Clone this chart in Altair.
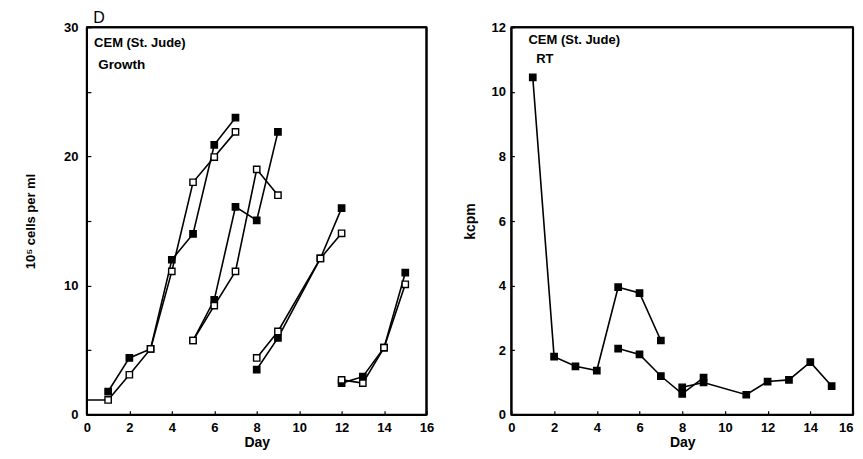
import altair as alt
import pandas as pd

# ---------------- Growth panel data (10^5 cells per ml) ----------------
g1_days = [1, 2, 3, 4, 5, 6, 7]
g1_filled = [1.8, 4.4, 5.1, 12.0, 14.0, 20.9, 23.0]
g1_open = [1.15, 3.1, 5.1, 11.1, 18.0, 19.95, 21.9]
g1_lead_day = 0
g1_lead_value = 1.15

g2_days = [5, 6, 7, 8, 9]
g2_filled = [5.75, 8.9, 16.1, 15.05, 21.9]
g2_open = [5.75, 8.45, 11.1, 19.0, 17.0]

g3_days = [8, 9, 11, 12]
g3_filled = [3.5, 5.95, 12.1, 16.0]
g3_open = [4.4, 6.45, 12.1, 14.05]

g4_days = [12, 13, 14, 15]
g4_filled = [2.45, 2.95, 5.2, 11.0]
g4_open = [2.7, 2.45, 5.2, 10.1]

# ---------------- RT panel data (kcpm) ----------------
rt_a_days = [1, 2, 3, 4, 5, 6, 7]
rt_a = [10.45, 1.8, 1.5, 1.37, 3.95, 3.77, 2.3]
rt_b_days = [5, 6, 7, 8, 9]
rt_b = [2.05, 1.87, 1.2, 0.65, 1.15]
rt_c_days = [8, 9, 11, 12, 13, 14, 15]
rt_c = [0.85, 1.0, 0.62, 1.03, 1.08, 1.63, 0.89]

x_domain = [0, 16]
growth_domain = [0, 30]
rt_domain = [0, 12]
x_ticks = list(range(0, 17))
growth_ticks = [0, 5, 10, 15, 20, 25, 30]
rt_ticks = [i * 0.5 for i in range(0, 25)]

FONT = "Liberation Sans"

rows = []
rows.append(dict(series="1-open", kind="open", day=g1_lead_day, value=g1_lead_value, marker=False))
for seg, days, filled, opened in [
    ("1", g1_days, g1_filled, g1_open),
    ("2", g2_days, g2_filled, g2_open),
    ("3", g3_days, g3_filled, g3_open),
    ("4", g4_days, g4_filled, g4_open),
]:
    for d, v in zip(days, filled):
        rows.append(dict(series=seg + "-filled", kind="filled", day=d, value=v, marker=True))
    for d, v in zip(days, opened):
        rows.append(dict(series=seg + "-open", kind="open", day=d, value=v, marker=True))
growth = pd.DataFrame(rows)

rt_rows = []
for s, days, vals in [("a", rt_a_days, rt_a), ("b", rt_b_days, rt_b), ("c", rt_c_days, rt_c)]:
    for d, v in zip(days, vals):
        rt_rows.append(dict(series=s, kind="filled", day=d, value=v, marker=True))
rt = pd.DataFrame(rt_rows)

fill_scale = alt.Scale(domain=["filled", "open"], range=["black", "white"])

def x_enc(label_align):
    return alt.X(
        "day:Q",
        scale=alt.Scale(domain=x_domain, nice=False, zero=False),
        axis=alt.Axis(
            values=x_ticks,
            labelExpr="datum.value % 2 == 0 ? datum.label : ''",
            labelOverlap=False,
            labelFlush=False,
            labelAlign=label_align,
            tickSize=4,
            offset=-4,
            domain=False,
            grid=False,
            tickColor="black",
            tickWidth=1.2,
            labelPadding=7,
            labelFont=FONT,
            labelFontSize=13,
            labelFontWeight="bold",
            labelColor="black",
            title="Day",
            titleFont=FONT,
            titleFontSize=14,
            titleFontWeight="bold",
            titleColor="black",
            titlePadding=1,
        ),
    )

def panel(df, y_domain, y_ticks, y_title, label_mod, label_pad, title_pad, texts, x_label_align, tick_size):
    y = alt.Y(
        "value:Q",
        scale=alt.Scale(domain=y_domain, nice=False, zero=True),
        axis=alt.Axis(
            values=y_ticks,
            labelExpr="datum.value %% %d == 0 ? datum.label : ''" % label_mod,
            labelOverlap=False,
            labelFlush=False,
            tickSize=tick_size,
            offset=-tick_size,
            domain=False,
            grid=False,
            tickColor="black",
            tickWidth=1.2,
            labelPadding=label_pad,
            labelFont=FONT,
            labelFontSize=13,
            labelFontWeight="bold",
            labelColor="black",
            title=y_title,
            titleFont=FONT,
            titleFontSize=13 if label_mod == 10 else 14,
            titleFontWeight="bold",
            titleColor="black",
            titlePadding=title_pad,
        ),
    )
    base = alt.Chart(df)
    lines = base.mark_line(color="black", strokeWidth=1.6).encode(
        x=x_enc(x_label_align), y=y, detail="series:N", order="day:Q"
    )
    pts = base.transform_filter("datum.marker").mark_point(
        shape="square", size=40, stroke="black", strokeWidth=1.4, opacity=1, fillOpacity=1
    ).encode(
        x="day:Q",
        y="value:Q",
        fill=alt.Fill("kind:N", scale=fill_scale, legend=None),
    )
    vrules = alt.Chart(
        pd.DataFrame({"fx": x_domain, "fy": [y_domain[0]] * 2, "fy2": [y_domain[1]] * 2})
    ).mark_rule(color="black", strokeWidth=2.2, clip=False).encode(x="fx:Q", y="fy:Q", y2="fy2:Q")
    hrules = alt.Chart(
        pd.DataFrame({"fy": y_domain, "fx": [x_domain[0]] * 2, "fx2": [x_domain[1]] * 2})
    ).mark_rule(color="black", strokeWidth=2.2, clip=False).encode(y="fy:Q", x="fx:Q", x2="fx2:Q")
    layers = [lines, pts, vrules, hrules]
    for txt, tx, ty, fs, fw, bl in texts:
        layers.append(
            alt.Chart(pd.DataFrame({"t": [txt], "tx": [tx], "ty": [ty]}))
            .mark_text(align="left", baseline=bl, font=FONT, fontSize=fs, fontWeight=fw, color="black", clip=False)
            .encode(x="tx:Q", y="ty:Q", text="t:N")
        )
    return alt.layer(*layers)

growth_texts = [
    ("D", 0.3, 30.33, 16, "normal", "alphabetic"),
    ("CEM (St. Jude)", 0.34, 28.8, 13, "bold", "middle"),
    ("Growth", 0.53, 27.1, 13.5, "bold", "middle"),
]
rt_texts = [
    ("CEM (St. Jude)", 0.8, 11.6, 13, "bold", "middle"),
    ("RT", 1.16, 11.03, 13, "bold", "middle"),
]

left = panel(growth, growth_domain, growth_ticks, "10⁵ cells per ml", 10, 9, 26, growth_texts, "center", 4).properties(
    width=340, height=388
)

right_align = {"condition": {"test": "datum.value == 16", "value": "right"}, "value": "center"}
right = panel(rt, rt_domain, rt_ticks, "kcpm", 2, 6, 13, rt_texts, right_align, 3).properties(
    width=342, height=388
)

chart = (
    alt.hconcat(left, right, spacing=85, bounds="flush")
    .properties(padding={"left": 15, "top": 0, "right": 0, "bottom": 0}, background="white")
    .configure_view(stroke="black", strokeWidth=1.8)
)

chart.save("out.html", embed_options={"renderer": "svg", "actions": False})
